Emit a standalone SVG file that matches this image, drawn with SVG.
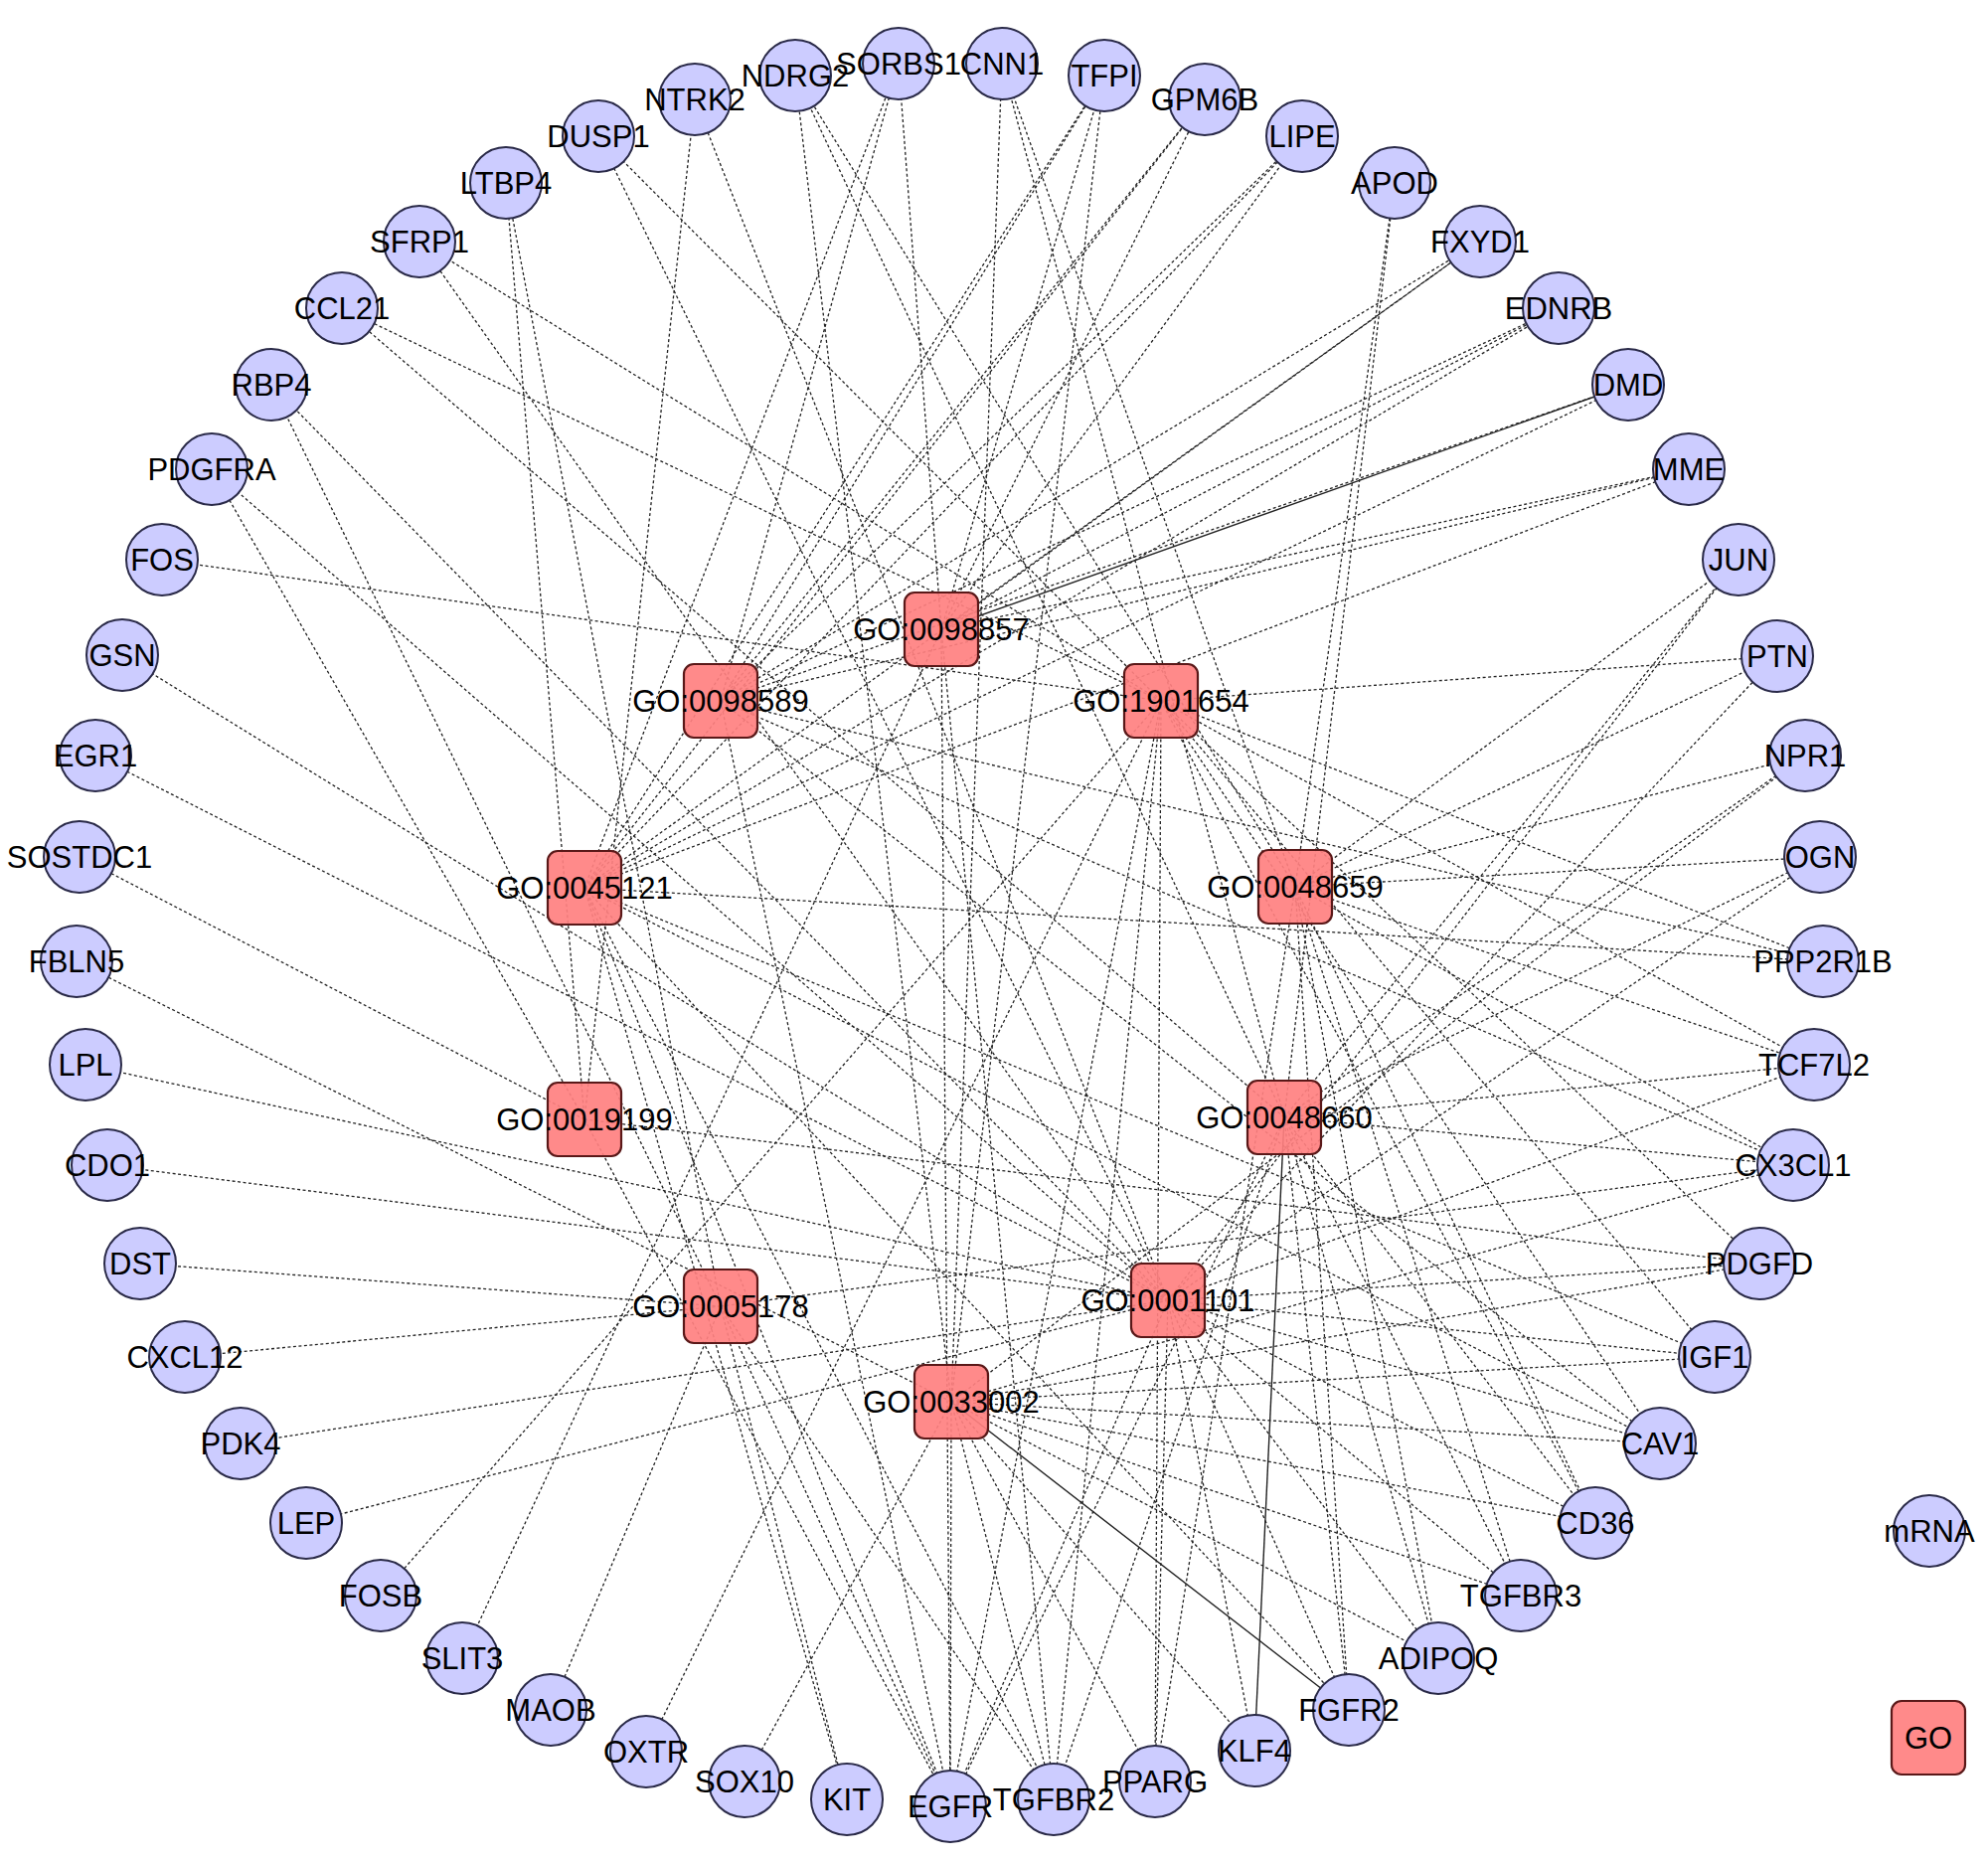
<svg xmlns="http://www.w3.org/2000/svg" width="2000" height="1873" viewBox="0 0 2000 1873">
<style>
.e{stroke:#222;stroke-width:1.3;stroke-dasharray:3 2.5;fill:none}
.s{stroke:#222;stroke-width:1.4;fill:none}
.g circle{fill:#ccccff;stroke:#2a2a48;stroke-width:2}
.t rect{fill:#ff8080;fill-opacity:0.92;stroke:#5a1818;stroke-width:2.2}
text{font-family:"Liberation Sans",Arial,sans-serif;font-size:31px;fill:#000;text-anchor:middle}
</style>
<rect width="2000" height="1873" fill="#fff"/>
<g id="edges">
<!-- A GO:0098857 -->
<line class="e" x1="947" y1="633" x2="904" y2="64"/>
<line class="e" x1="947" y1="633" x2="1111" y2="76"/>
<line class="e" x1="947" y1="633" x2="1212" y2="100"/>
<line class="e" x1="947" y1="633" x2="1310" y2="137"/>
<line class="e" x1="947" y1="633" x2="1489" y2="243"/>
<line class="e" x1="947" y1="633" x2="1568" y2="310"/>
<line class="s" x1="947" y1="633" x2="1638" y2="387"/>
<line class="e" x1="947" y1="633" x2="1699" y2="472"/>
<line class="e" x1="947" y1="633" x2="465" y2="1668"/>
<line class="e" x1="947" y1="633" x2="956" y2="1817"/>
<line class="e" x1="947" y1="633" x2="1060" y2="1810"/>
<!-- B GO:0098589 -->
<line class="e" x1="725" y1="705" x2="904" y2="64"/>
<line class="e" x1="725" y1="705" x2="1111" y2="76"/>
<line class="e" x1="725" y1="705" x2="1212" y2="100"/>
<line class="e" x1="725" y1="705" x2="1310" y2="137"/>
<line class="e" x1="725" y1="705" x2="1489" y2="243"/>
<line class="e" x1="725" y1="705" x2="1568" y2="310"/>
<line class="e" x1="725" y1="705" x2="1638" y2="387"/>
<line class="e" x1="725" y1="705" x2="1699" y2="472"/>
<line class="e" x1="725" y1="705" x2="1834" y2="967"/>
<line class="e" x1="725" y1="705" x2="1804" y2="1172"/>
<line class="e" x1="725" y1="705" x2="956" y2="1817"/>
<line class="e" x1="725" y1="705" x2="1670" y2="1452"/>
<!-- C GO:1901654 -->
<line class="e" x1="1168" y1="705" x2="602" y2="137"/>
<line class="e" x1="1168" y1="705" x2="422" y2="243"/>
<line class="e" x1="1168" y1="705" x2="344" y2="310"/>
<line class="e" x1="1168" y1="705" x2="163" y2="563"/>
<line class="e" x1="1168" y1="705" x2="1788" y2="660"/>
<line class="e" x1="1168" y1="705" x2="1834" y2="967"/>
<line class="e" x1="1168" y1="705" x2="1825" y2="1071"/>
<line class="e" x1="1168" y1="705" x2="1770" y2="1271"/>
<line class="e" x1="1168" y1="705" x2="1162" y2="1792"/>
<line class="e" x1="1168" y1="705" x2="650" y2="1762"/>
<line class="e" x1="1168" y1="705" x2="383" y2="1605"/>
<line class="e" x1="1168" y1="705" x2="956" y2="1817"/>
<line class="e" x1="1168" y1="705" x2="1060" y2="1810"/>
<line class="e" x1="1168" y1="705" x2="1725" y2="1365"/>
<line class="e" x1="1168" y1="705" x2="1670" y2="1452"/>
<line class="e" x1="1168" y1="705" x2="1605" y2="1532"/>
<!-- D GO:0045121 -->
<line class="e" x1="588" y1="893" x2="904" y2="64"/>
<line class="e" x1="588" y1="893" x2="1111" y2="76"/>
<line class="e" x1="588" y1="893" x2="1212" y2="100"/>
<line class="e" x1="588" y1="893" x2="1310" y2="137"/>
<line class="e" x1="588" y1="893" x2="1489" y2="243"/>
<line class="e" x1="588" y1="893" x2="1568" y2="310"/>
<line class="e" x1="588" y1="893" x2="1638" y2="387"/>
<line class="e" x1="588" y1="893" x2="1699" y2="472"/>
<line class="e" x1="588" y1="893" x2="1834" y2="967"/>
<line class="e" x1="588" y1="893" x2="1725" y2="1365"/>
<line class="e" x1="588" y1="893" x2="1670" y2="1452"/>
<line class="e" x1="588" y1="893" x2="1357" y2="1720"/>
<line class="e" x1="588" y1="893" x2="852" y2="1810"/>
<line class="e" x1="588" y1="893" x2="956" y2="1817"/>
<line class="e" x1="588" y1="893" x2="1060" y2="1810"/>
<!-- E GO:0048659 -->
<line class="e" x1="1303" y1="892" x2="800" y2="76"/>
<line class="e" x1="1303" y1="892" x2="1008" y2="64"/>
<line class="e" x1="1303" y1="892" x2="1403" y2="184"/>
<line class="e" x1="1303" y1="892" x2="1749" y2="563"/>
<line class="e" x1="1303" y1="892" x2="1788" y2="660"/>
<line class="e" x1="1303" y1="892" x2="1816" y2="760"/>
<line class="e" x1="1303" y1="892" x2="1831" y2="862"/>
<line class="e" x1="1303" y1="892" x2="1825" y2="1071"/>
<line class="e" x1="1303" y1="892" x2="1804" y2="1172"/>
<line class="e" x1="1303" y1="892" x2="1605" y2="1532"/>
<line class="e" x1="1303" y1="892" x2="1530" y2="1605"/>
<line class="e" x1="1303" y1="892" x2="1447" y2="1668"/>
<line class="e" x1="1303" y1="892" x2="1357" y2="1720"/>
<line class="e" x1="1303" y1="892" x2="1162" y2="1792"/>
<!-- F GO:0019199 -->
<line class="e" x1="588" y1="1126" x2="699" y2="100"/>
<line class="e" x1="588" y1="1126" x2="509" y2="184"/>
<line class="e" x1="588" y1="1126" x2="213" y2="472"/>
<line class="e" x1="588" y1="1126" x2="80" y2="862"/>
<line class="e" x1="588" y1="1126" x2="956" y2="1817"/>
<line class="e" x1="588" y1="1126" x2="1770" y2="1271"/>
<!-- G GO:0048660 -->
<line class="e" x1="1292" y1="1124" x2="800" y2="76"/>
<line class="e" x1="1292" y1="1124" x2="1008" y2="64"/>
<line class="e" x1="1292" y1="1124" x2="1403" y2="184"/>
<line class="e" x1="1292" y1="1124" x2="1749" y2="563"/>
<line class="e" x1="1292" y1="1124" x2="1816" y2="760"/>
<line class="e" x1="1292" y1="1124" x2="1831" y2="862"/>
<line class="e" x1="1292" y1="1124" x2="1825" y2="1071"/>
<line class="e" x1="1292" y1="1124" x2="1804" y2="1172"/>
<line class="e" x1="1292" y1="1124" x2="1605" y2="1532"/>
<line class="e" x1="1292" y1="1124" x2="1530" y2="1605"/>
<line class="e" x1="1292" y1="1124" x2="1447" y2="1668"/>
<line class="e" x1="1292" y1="1124" x2="1357" y2="1720"/>
<line class="s" x1="1292" y1="1124" x2="1262" y2="1761"/>
<line class="e" x1="1292" y1="1124" x2="344" y2="310"/>
<line class="e" x1="1292" y1="1124" x2="956" y2="1817"/>
<line class="e" x1="1292" y1="1124" x2="1060" y2="1810"/>
<!-- H GO:0005178 -->
<line class="e" x1="725" y1="1314" x2="509" y2="184"/>
<line class="e" x1="725" y1="1314" x2="273" y2="387"/>
<line class="e" x1="725" y1="1314" x2="141" y2="1271"/>
<line class="e" x1="725" y1="1314" x2="186" y2="1365"/>
<line class="e" x1="725" y1="1314" x2="554" y2="1720"/>
<line class="e" x1="725" y1="1314" x2="852" y2="1810"/>
<line class="e" x1="725" y1="1314" x2="956" y2="1817"/>
<line class="e" x1="725" y1="1314" x2="1060" y2="1810"/>
<line class="e" x1="725" y1="1314" x2="1804" y2="1172"/>
<!-- I GO:0001101 -->
<line class="e" x1="1175" y1="1308" x2="602" y2="137"/>
<line class="e" x1="1175" y1="1308" x2="422" y2="243"/>
<line class="e" x1="1175" y1="1308" x2="699" y2="100"/>
<line class="e" x1="1175" y1="1308" x2="213" y2="472"/>
<line class="e" x1="1175" y1="1308" x2="273" y2="387"/>
<line class="e" x1="1175" y1="1308" x2="123" y2="659"/>
<line class="e" x1="1175" y1="1308" x2="96" y2="760"/>
<line class="e" x1="1175" y1="1308" x2="86" y2="1071"/>
<line class="e" x1="1175" y1="1308" x2="108" y2="1172"/>
<line class="e" x1="1175" y1="1308" x2="308" y2="1532"/>
<line class="e" x1="1175" y1="1308" x2="242" y2="1452"/>
<line class="e" x1="1175" y1="1308" x2="1725" y2="1365"/>
<line class="e" x1="1175" y1="1308" x2="1670" y2="1452"/>
<line class="e" x1="1175" y1="1308" x2="1605" y2="1532"/>
<line class="e" x1="1175" y1="1308" x2="1530" y2="1605"/>
<line class="e" x1="1175" y1="1308" x2="1447" y2="1668"/>
<line class="e" x1="1175" y1="1308" x2="1825" y2="1071"/>
<line class="e" x1="1175" y1="1308" x2="1831" y2="862"/>
<line class="e" x1="1175" y1="1308" x2="1788" y2="660"/>
<line class="e" x1="1175" y1="1308" x2="1749" y2="563"/>
<line class="e" x1="1175" y1="1308" x2="1162" y2="1792"/>
<line class="e" x1="1175" y1="1308" x2="1262" y2="1761"/>
<line class="e" x1="1175" y1="1308" x2="956" y2="1817"/>
<line class="e" x1="1175" y1="1308" x2="1357" y2="1720"/>
<line class="e" x1="1175" y1="1308" x2="1770" y2="1271"/>
<!-- J GO:0033002 -->
<line class="e" x1="957" y1="1410" x2="800" y2="76"/>
<line class="e" x1="957" y1="1410" x2="1008" y2="64"/>
<line class="e" x1="957" y1="1410" x2="1111" y2="76"/>
<line class="e" x1="957" y1="1410" x2="77" y2="967"/>
<line class="e" x1="957" y1="1410" x2="1816" y2="760"/>
<line class="e" x1="957" y1="1410" x2="1804" y2="1172"/>
<line class="e" x1="957" y1="1410" x2="1770" y2="1271"/>
<line class="e" x1="957" y1="1410" x2="1725" y2="1365"/>
<line class="e" x1="957" y1="1410" x2="1670" y2="1452"/>
<line class="e" x1="957" y1="1410" x2="1605" y2="1532"/>
<line class="e" x1="957" y1="1410" x2="1530" y2="1605"/>
<line class="e" x1="957" y1="1410" x2="1447" y2="1668"/>
<line class="e" x1="957" y1="1410" x2="1262" y2="1761"/>
<line class="e" x1="957" y1="1410" x2="1162" y2="1792"/>
<line class="e" x1="957" y1="1410" x2="1060" y2="1810"/>
<line class="e" x1="957" y1="1410" x2="956" y2="1817"/>
<line class="e" x1="957" y1="1410" x2="749" y2="1792"/>
<line class="s" x1="957" y1="1410" x2="1357" y2="1720"/>
</g>
<g id="genes" class="g">
<g id="n-NTRK2"><circle cx="699" cy="100" r="36"/><text x="699" y="111">NTRK2</text></g>
<g id="n-NDRG2"><circle cx="800" cy="76" r="36"/><text x="800" y="87">NDRG2</text></g>
<g id="n-SORBS1"><circle cx="904" cy="64" r="36"/><text x="904" y="75">SORBS1</text></g>
<g id="n-CNN1"><circle cx="1008" cy="64" r="36"/><text x="1008" y="75">CNN1</text></g>
<g id="n-TFPI"><circle cx="1111" cy="76" r="36"/><text x="1111" y="87">TFPI</text></g>
<g id="n-GPM6B"><circle cx="1212" cy="100" r="36"/><text x="1212" y="111">GPM6B</text></g>
<g id="n-LIPE"><circle cx="1310" cy="137" r="36"/><text x="1310" y="148">LIPE</text></g>
<g id="n-APOD"><circle cx="1403" cy="184" r="36"/><text x="1403" y="195">APOD</text></g>
<g id="n-FXYD1"><circle cx="1489" cy="243" r="36"/><text x="1489" y="254">FXYD1</text></g>
<g id="n-EDNRB"><circle cx="1568" cy="310" r="36"/><text x="1568" y="321">EDNRB</text></g>
<g id="n-DMD"><circle cx="1638" cy="387" r="36"/><text x="1638" y="398">DMD</text></g>
<g id="n-MME"><circle cx="1699" cy="472" r="36"/><text x="1699" y="483">MME</text></g>
<g id="n-JUN"><circle cx="1749" cy="563" r="36"/><text x="1749" y="574">JUN</text></g>
<g id="n-PTN"><circle cx="1788" cy="660" r="36"/><text x="1788" y="671">PTN</text></g>
<g id="n-NPR1"><circle cx="1816" cy="760" r="36"/><text x="1816" y="771">NPR1</text></g>
<g id="n-OGN"><circle cx="1831" cy="862" r="36"/><text x="1831" y="873">OGN</text></g>
<g id="n-PPP2R1B"><circle cx="1834" cy="967" r="36"/><text x="1834" y="978">PPP2R1B</text></g>
<g id="n-TCF7L2"><circle cx="1825" cy="1071" r="36"/><text x="1825" y="1082">TCF7L2</text></g>
<g id="n-CX3CL1"><circle cx="1804" cy="1172" r="36"/><text x="1804" y="1183">CX3CL1</text></g>
<g id="n-PDGFD"><circle cx="1770" cy="1271" r="36"/><text x="1770" y="1282">PDGFD</text></g>
<g id="n-IGF1"><circle cx="1725" cy="1365" r="36"/><text x="1725" y="1376">IGF1</text></g>
<g id="n-CAV1"><circle cx="1670" cy="1452" r="36"/><text x="1670" y="1463">CAV1</text></g>
<g id="n-CD36"><circle cx="1605" cy="1532" r="36"/><text x="1605" y="1543">CD36</text></g>
<g id="n-TGFBR3"><circle cx="1530" cy="1605" r="36"/><text x="1530" y="1616">TGFBR3</text></g>
<g id="n-ADIPOQ"><circle cx="1447" cy="1668" r="36"/><text x="1447" y="1679">ADIPOQ</text></g>
<g id="n-FGFR2"><circle cx="1357" cy="1720" r="36"/><text x="1357" y="1731">FGFR2</text></g>
<g id="n-KLF4"><circle cx="1262" cy="1761" r="36"/><text x="1262" y="1772">KLF4</text></g>
<g id="n-PPARG"><circle cx="1162" cy="1792" r="36"/><text x="1162" y="1803">PPARG</text></g>
<g id="n-TGFBR2"><circle cx="1060" cy="1810" r="36"/><text x="1060" y="1821">TGFBR2</text></g>
<g id="n-EGFR"><circle cx="956" cy="1817" r="36"/><text x="956" y="1828">EGFR</text></g>
<g id="n-KIT"><circle cx="852" cy="1810" r="36"/><text x="852" y="1821">KIT</text></g>
<g id="n-SOX10"><circle cx="749" cy="1792" r="36"/><text x="749" y="1803">SOX10</text></g>
<g id="n-OXTR"><circle cx="650" cy="1762" r="36"/><text x="650" y="1773">OXTR</text></g>
<g id="n-MAOB"><circle cx="554" cy="1720" r="36"/><text x="554" y="1731">MAOB</text></g>
<g id="n-SLIT3"><circle cx="465" cy="1668" r="36"/><text x="465" y="1679">SLIT3</text></g>
<g id="n-FOSB"><circle cx="383" cy="1605" r="36"/><text x="383" y="1616">FOSB</text></g>
<g id="n-LEP"><circle cx="308" cy="1532" r="36"/><text x="308" y="1543">LEP</text></g>
<g id="n-PDK4"><circle cx="242" cy="1452" r="36"/><text x="242" y="1463">PDK4</text></g>
<g id="n-CXCL12"><circle cx="186" cy="1365" r="36"/><text x="186" y="1376">CXCL12</text></g>
<g id="n-DST"><circle cx="141" cy="1271" r="36"/><text x="141" y="1282">DST</text></g>
<g id="n-CDO1"><circle cx="108" cy="1172" r="36"/><text x="108" y="1183">CDO1</text></g>
<g id="n-LPL"><circle cx="86" cy="1071" r="36"/><text x="86" y="1082">LPL</text></g>
<g id="n-FBLN5"><circle cx="77" cy="967" r="36"/><text x="77" y="978">FBLN5</text></g>
<g id="n-SOSTDC1"><circle cx="80" cy="862" r="36"/><text x="80" y="873">SOSTDC1</text></g>
<g id="n-EGR1"><circle cx="96" cy="760" r="36"/><text x="96" y="771">EGR1</text></g>
<g id="n-GSN"><circle cx="123" cy="659" r="36"/><text x="123" y="670">GSN</text></g>
<g id="n-FOS"><circle cx="163" cy="563" r="36"/><text x="163" y="574">FOS</text></g>
<g id="n-PDGFRA"><circle cx="213" cy="472" r="36"/><text x="213" y="483">PDGFRA</text></g>
<g id="n-RBP4"><circle cx="273" cy="387" r="36"/><text x="273" y="398">RBP4</text></g>
<g id="n-CCL21"><circle cx="344" cy="310" r="36"/><text x="344" y="321">CCL21</text></g>
<g id="n-SFRP1"><circle cx="422" cy="243" r="36"/><text x="422" y="254">SFRP1</text></g>
<g id="n-LTBP4"><circle cx="509" cy="184" r="36"/><text x="509" y="195">LTBP4</text></g>
<g id="n-DUSP1"><circle cx="602" cy="137" r="36"/><text x="602" y="148">DUSP1</text></g>
<g id="legend-mRNA"><circle cx="1941" cy="1540" r="36"/><text x="1941" y="1551">mRNA</text></g>
</g>
<g id="goterms" class="t">
<g id="go-0098857"><rect x="910" y="596" width="74" height="74" rx="10"/><text x="947" y="644">GO:0098857</text></g>
<g id="go-0098589"><rect x="688" y="668" width="74" height="74" rx="10"/><text x="725" y="716">GO:0098589</text></g>
<g id="go-1901654"><rect x="1131" y="668" width="74" height="74" rx="10"/><text x="1168" y="716">GO:1901654</text></g>
<g id="go-0045121"><rect x="551" y="856" width="74" height="74" rx="10"/><text x="588" y="904">GO:0045121</text></g>
<g id="go-0048659"><rect x="1266" y="855" width="74" height="74" rx="10"/><text x="1303" y="903">GO:0048659</text></g>
<g id="go-0019199"><rect x="551" y="1089" width="74" height="74" rx="10"/><text x="588" y="1137">GO:0019199</text></g>
<g id="go-0048660"><rect x="1255" y="1087" width="74" height="74" rx="10"/><text x="1292" y="1135">GO:0048660</text></g>
<g id="go-0005178"><rect x="688" y="1277" width="74" height="74" rx="10"/><text x="725" y="1325">GO:0005178</text></g>
<g id="go-0001101"><rect x="1138" y="1271" width="74" height="74" rx="10"/><text x="1175" y="1319">GO:0001101</text></g>
<g id="go-0033002"><rect x="920" y="1373" width="74" height="74" rx="10"/><text x="957" y="1421">GO:0033002</text></g>
<g id="legend-GO"><rect x="1903" y="1711" width="74" height="74" rx="10"/><text x="1940" y="1759">GO</text></g>
</g>
</svg>
